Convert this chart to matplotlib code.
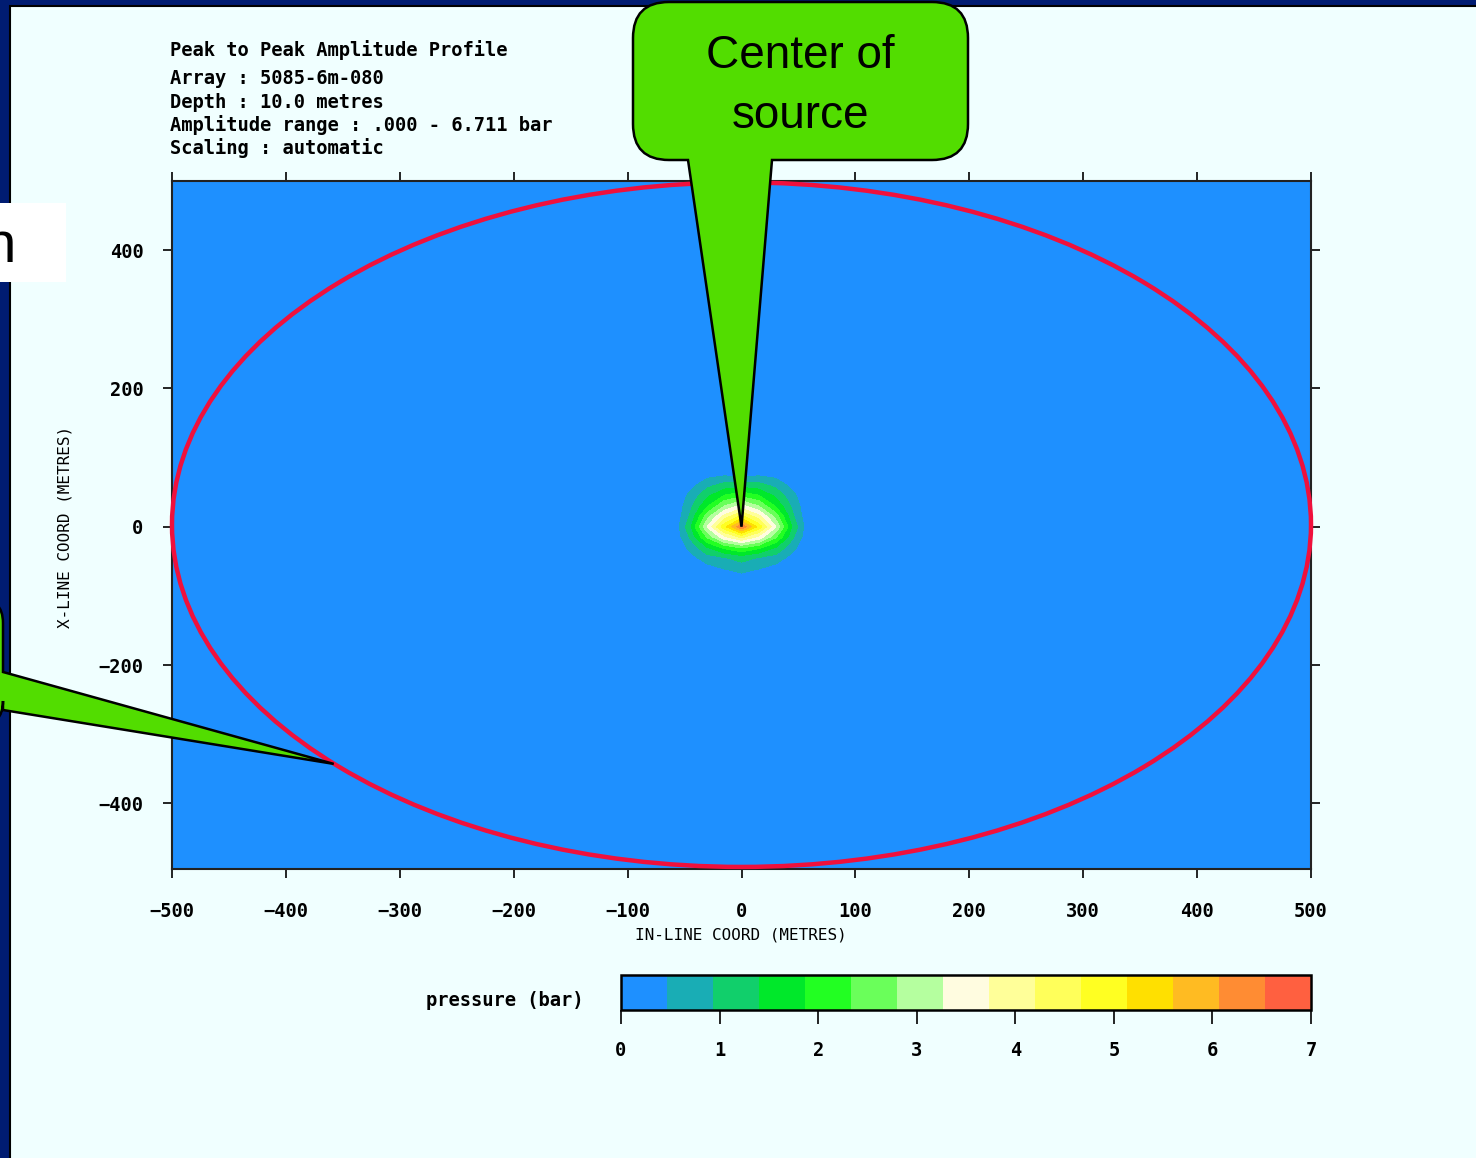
import numpy as np
from matplotlib import pyplot as plt
from matplotlib.colors import ListedColormap
from matplotlib.patches import Ellipse, Rectangle, PathPatch
from matplotlib.path import Path

# grid of the peak-to-peak amplitude (bar)
x_coord = [-500, -60, -45, -30, -15, 0, 15, 30, 45, 60, 500]
y_coord = [-500, -75, -60, -45, -30, -15, 0, 15, 30, 45, 60, 75, 500]
pressure = [
    [0, 0, 0, 0, 0, 0, 0, 0, 0, 0, 0],
    [0, 0, 0, 0, 0, 0.2, 0, 0, 0, 0, 0],
    [0, 0, 0, 0.3, 0.5, 0.7, 0.5, 0.3, 0, 0, 0],
    [0, 0, 0.3, 0.7, 0.9, 1.1, 0.9, 0.7, 0.3, 0, 0],
    [0, 0, 0.6, 1.4, 2.0, 2.4, 2.0, 1.4, 0.6, 0, 0],
    [0, 0, 1.0, 2.4, 3.6, 4.3, 3.6, 2.4, 1.0, 0, 0],
    [0, 0, 1.3, 3.3, 5.0, 6.5, 5.0, 3.3, 1.3, 0, 0],
    [0, 0, 1.0, 2.6, 3.9, 4.8, 3.9, 2.6, 1.0, 0, 0],
    [0, 0, 0.8, 1.8, 2.8, 3.4, 2.8, 1.8, 0.8, 0, 0],
    [0, 0, 0.6, 1.3, 1.9, 2.2, 1.9, 1.3, 0.6, 0, 0],
    [0, 0, 0.3, 0.8, 1.1, 1.2, 1.1, 0.8, 0.3, 0, 0],
    [0, 0, 0, 0.3, 0.4, 0.3, 0.4, 0.3, 0, 0, 0],
    [0, 0, 0, 0, 0, 0, 0, 0, 0, 0, 0],
]
level_colors = ['#1e90ff', '#19adb5', '#11cf6b', '#00e82a', '#22ff22',
                '#6aff5a', '#b5ff9f', '#fffce0', '#ffff99', '#ffff5a',
                '#ffff22', '#ffe000', '#ffbb22', '#ff8c33', '#ff6040']
x_ticks = [-500, -400, -300, -200, -100, 0, 100, 200, 300, 400, 500]
y_ticks = [-400, -200, 0, 200, 400]
cbar_ticks = [0, 1, 2, 3, 4, 5, 6, 7]
header = ["Peak to Peak Amplitude Profile",
          "Array : 5085-6m-080",
          "Depth : 10.0 metres",
          "Amplitude range : .000 - 6.711 bar",
          "Scaling : automatic"]

W, H = 1476, 1158
fig = plt.figure(figsize=(W / 100, H / 100), dpi=100, facecolor='#001c72')

# light page on the navy frame
fig.add_artist(Rectangle((9.5 / W, -0.01), 1.02, (H - 6.0) / H + 0.01,
                         transform=fig.transFigure, facecolor='#f0ffff',
                         edgecolor='black', linewidth=1.5, zorder=-1))

mono = 'DejaVu Sans Mono'

ax = fig.add_axes([172 / W, (H - 869) / H, (1311 - 172) / W, (869 - 181) / H])
ax.set_facecolor('#1e90ff')
cmap = ListedColormap(level_colors)
levels = np.linspace(0, 7, 16)
X, Y = np.meshgrid(x_coord, y_coord)
cf = ax.contourf(X, Y, np.array(pressure), levels=levels, cmap=cmap)
ax.add_patch(Ellipse((0, 3), 1000, 990, fill=False, edgecolor='#f0103c',
                     linewidth=3.2, clip_on=False, zorder=3))
ax.set_xlim(-500, 500)
ax.set_ylim(-495, 500)
ax.set_xticks(x_ticks)
ax.set_yticks(y_ticks)
ax.tick_params(direction='out', length=6.5, width=1.2, top=True, right=True,
               labelsize=13.5, pad=14)
ax.tick_params(axis='x', pad=17)
for lab in ax.get_xticklabels() + ax.get_yticklabels():
    lab.set_fontfamily(mono)
    lab.set_fontweight('bold')
for sp in ax.spines.values():
    sp.set_linewidth(1.5)
    sp.set_color('#222222')

cax = fig.add_axes([621 / W, (H - 1010) / H, 690 / W, 35 / H])
cb = fig.colorbar(cf, cax=cax, orientation='horizontal', ticks=cbar_ticks)
cb.outline.set_linewidth(1.8)
cax.tick_params(direction='out', length=10, width=1.2, labelsize=13.5,
                pad=12)
for lab in cax.get_xticklabels():
    lab.set_fontfamily(mono)
    lab.set_fontweight('bold')

# pixel overlay for the texts and the callouts
ov = fig.add_axes([0, 0, 1, 1], zorder=10)
ov.set_xlim(0, W)
ov.set_ylim(H, 0)
ov.axis('off')
ov.patch.set_alpha(0)

for txt, yy in zip(header, [50, 78, 102, 125, 148]):
    ov.text(170, yy, txt, fontsize=13.5, fontweight='bold', family=mono,
            va='center', ha='left')
ov.text(741, 935, "IN-LINE COORD (METRES)", fontsize=11.5, family=mono,
        ha='center', va='center')
ov.text(65, 527, "X-LINE COORD (METRES)", fontsize=11.5, family=mono,
        ha='center', va='center', rotation=90)
ov.text(505, 1001, "pressure (bar)", fontsize=13.5, fontweight='bold',
        family=mono, ha='center', va='center')


def to_px(pt):
    return ov.transData.inverted().transform(ax.transData.transform(pt))


green = '#52dd00'
sans = ['Liberation Sans', 'DejaVu Sans']

# "Center of source" callout
tip = to_px((0, 0))
x0, y0, x1, y1, r = 633, 2, 968, 160, 36
verts = [(x0 + r, y0), (x1 - r, y0), (x1, y0), (x1, y0 + r), (x1, y1 - r),
         (x1, y1), (x1 - r, y1), (772, y1), tuple(tip), (688, y1),
         (x0 + r, y1), (x0, y1), (x0, y1 - r), (x0, y0 + r), (x0, y0),
         (x0 + r, y0), (x0 + r, y0)]
codes = [Path.MOVETO, Path.LINETO, Path.CURVE3, Path.CURVE3, Path.LINETO,
         Path.CURVE3, Path.CURVE3, Path.LINETO, Path.LINETO, Path.LINETO,
         Path.LINETO, Path.CURVE3, Path.CURVE3, Path.LINETO, Path.CURVE3,
         Path.CURVE3, Path.CLOSEPOLY]
ov.add_patch(PathPatch(Path(verts, codes), facecolor=green,
                       edgecolor='black', linewidth=1.8))
ov.text(800, 68, "Center of", fontsize=33, family=sans, ha='center',
        va='baseline')
ov.text(800, 128, "source", fontsize=33, family=sans, ha='center',
        va='baseline')

# callout coming in from the left edge
tip2 = to_px((-358, -343))
x0, y0, x1, y1, r = -400, 598, 3, 726, 25
verts = [(x0, y0), (x1 - r, y0), (x1, y0), (x1, y0 + r), (x1, 672),
         tuple(tip2), (x1, 710), (x1, y1 - r), (x1, y1), (x1 - r, y1),
         (x0, y1), (x0, y0)]
codes = [Path.MOVETO, Path.LINETO, Path.CURVE3, Path.CURVE3, Path.LINETO,
         Path.LINETO, Path.LINETO, Path.LINETO, Path.CURVE3, Path.CURVE3,
         Path.LINETO, Path.CLOSEPOLY]
ov.add_patch(PathPatch(Path(verts, codes), facecolor=green,
                       edgecolor='black', linewidth=1.8))

# white label box cut by the left edge
ov.add_patch(Rectangle((0, 203), 66, 79, facecolor='white', edgecolor='none'))
ov.text(16, 262, "n", fontsize=42, family=sans, ha='right', va='baseline')

fig.savefig("out.png", dpi=100, facecolor=fig.get_facecolor())
